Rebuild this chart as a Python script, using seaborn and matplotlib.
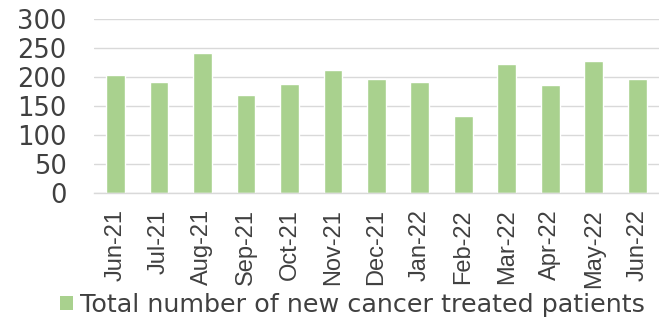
import matplotlib
matplotlib.use("Agg")
import matplotlib.pyplot as plt
from matplotlib.patches import Patch
from matplotlib.ticker import MultipleLocator
import numpy as np
import pandas as pd
import seaborn as sns

# --- data ---
months = ["Jun-21", "Jul-21", "Aug-21", "Sep-21", "Oct-21", "Nov-21", "Dec-21",
          "Jan-22", "Feb-22", "Mar-22", "Apr-22", "May-22", "Jun-22"]
new_patients = [204, 192, 241, 168, 187, 212, 196, 192, 132, 223, 186, 228, 196]
series_name = "Total number of new cancer treated patients"

bar_color = "#A9D18E"
grid_color = "#D9D9D9"
text_color = "#404040"

sns.set_style("white")
plt.rcParams["font.family"] = ["DejaVu Sans"]

df = pd.DataFrame({"month": months, "patients": new_patients})

fig = plt.figure(figsize=(6.59, 3.20), dpi=100)
# axes runs slightly past the right edge in the original, so clip via xlim
ax = fig.add_axes([93.7 / 659, 1 - 192.7 / 320, 1 - 93.7 / 659, (192.7 - 19) / 320])

sns.barplot(data=df, x="month", y="patients", color=bar_color, saturation=1,
            width=0.43, ax=ax)

ax.set_ylim(0, 300)
ax.set_xlim(-0.5, 12.3)
ax.yaxis.set_major_locator(MultipleLocator(50))
ax.grid(axis="y", color=grid_color, linewidth=1.0)
ax.set_axisbelow(True)
ax.set_xlabel("")
ax.set_ylabel("")

for side in ["left", "right", "top"]:
    ax.spines[side].set_visible(False)
ax.spines["bottom"].set_color(grid_color)
ax.spines["bottom"].set_linewidth(1.0)

# labels at category centres, tick marks at category boundaries
ax.set_xticks(np.arange(len(months)))
ax.set_xticklabels(months, rotation=90, fontsize=17, color=text_color,
                   family=["Liberation Sans", "DejaVu Sans"])
ax.set_xticks(np.arange(len(months) + 1) - 0.5, minor=True)
ax.tick_params(axis="x", which="major", length=0, pad=12)
ax.tick_params(axis="x", which="minor", length=4, width=1.0, color=grid_color)

ax.tick_params(axis="y", length=0, pad=19.5, labelsize=18.5, labelcolor=text_color)

# legend kept just inside the right edge
handle = Patch(facecolor=bar_color, edgecolor="none")
fig.legend([handle], [series_name], loc="center left",
           bbox_to_anchor=(60 / 659, 0.047), frameon=False,
           fontsize=18.3, labelcolor=text_color, borderpad=0, borderaxespad=0,
           handlelength=0.52, handleheight=0.5, handletextpad=0.25)

fig.savefig("out.png", dpi=100)
